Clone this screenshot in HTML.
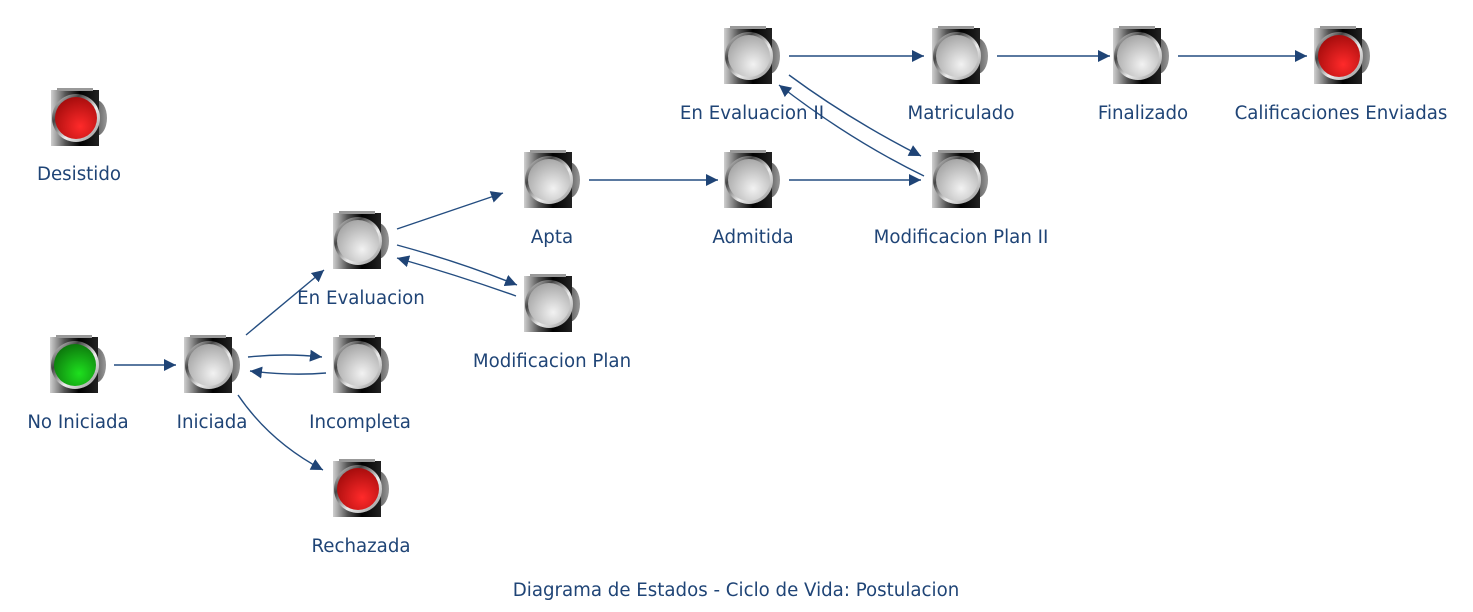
<!DOCTYPE html>
<html><head><meta charset="utf-8"><style>
html,body{margin:0;padding:0;background:#fff;}
svg{display:block;}
text{font-family:"DejaVu Sans","Liberation Sans",sans-serif;font-size:18.2px;fill:#1f4476;text-anchor:middle;}
</style></head><body>
<svg width="1473" height="612" viewBox="0 0 1473 612" xmlns="http://www.w3.org/2000/svg">
<defs>
<linearGradient id="bez" x1="0" y1="0" x2="1" y2="0"><stop offset="0" stop-color="#d0d0d0"/><stop offset="0.3" stop-color="#555"/><stop offset="0.6" stop-color="#000"/><stop offset="1" stop-color="#222"/></linearGradient>
<linearGradient id="ring" x1="0" y1="0" x2="1" y2="1"><stop offset="0" stop-color="#fff"/><stop offset="0.3" stop-color="#444"/><stop offset="0.6" stop-color="#eee"/><stop offset="1" stop-color="#888"/></linearGradient>
<linearGradient id="side" x1="0" y1="0" x2="1" y2="0"><stop offset="0" stop-color="#222"/><stop offset="1" stop-color="#999"/></linearGradient>
<radialGradient id="gG" cx="0.6" cy="0.7" r="0.7"><stop offset="0" stop-color="#f2f2f2"/><stop offset="1" stop-color="#a8a8a8"/></radialGradient>
<radialGradient id="gR" cx="0.6" cy="0.7" r="0.7"><stop offset="0" stop-color="#ff2a2a"/><stop offset="1" stop-color="#a80d0d"/></radialGradient>
<radialGradient id="gV" cx="0.6" cy="0.7" r="0.7"><stop offset="0" stop-color="#1ee01e"/><stop offset="1" stop-color="#0d7a0d"/></radialGradient>
<g id="base">
<ellipse cx="45" cy="28" rx="11" ry="18" fill="url(#side)"/>
<rect x="0" y="0" width="48" height="56" fill="url(#bez)"/>
<rect x="6" y="-2" width="36" height="3" fill="#999"/>
<circle cx="25" cy="28" r="24" fill="url(#ring)"/>
</g>
<marker id="ar" viewBox="0 0 10 10" refX="10" refY="5" markerWidth="12" markerHeight="12" markerUnits="userSpaceOnUse" orient="auto"><path d="M0,0 L10,5 L0,10 Z" fill="#1f4476"/></marker>
</defs>
<g stroke="#244d80" stroke-width="1.4" fill="none" marker-end="url(#ar)">
<path d="M114,365 L176,365"/>
<path d="M246,335 L324,270"/>
<path d="M248,357 Q285,353 322,357"/>
<path d="M326,373 Q290,376 250,371"/>
<path d="M238,395 Q270,442 323,470"/>
<path d="M397,229 L503,193"/>
<path d="M397,245 Q460,262 517,285"/>
<path d="M516,296 Q460,276 397,258"/>
<path d="M589,180 L718,180"/>
<path d="M789,180 L921,180"/>
<path d="M789,75 Q850,120 921,156"/>
<path d="M924,176 Q850,140 779,85"/>
<path d="M789,56 L924,56"/>
<path d="M997,56 L1110,56"/>
<path d="M1178,56 L1307,56"/>
</g>
<g>
<g transform="translate(51,90)"><use href="#base"/><circle cx="25" cy="28" r="21" fill="url(#gR)"/></g>
<g transform="translate(50,337)"><use href="#base"/><circle cx="25" cy="28" r="21" fill="url(#gV)"/></g>
<g transform="translate(184,337)"><use href="#base"/><circle cx="25" cy="28" r="21" fill="url(#gG)"/></g>
<g transform="translate(333,213)"><use href="#base"/><circle cx="25" cy="28" r="21" fill="url(#gG)"/></g>
<g transform="translate(333,337)"><use href="#base"/><circle cx="25" cy="28" r="21" fill="url(#gG)"/></g>
<g transform="translate(333,461)"><use href="#base"/><circle cx="25" cy="28" r="21" fill="url(#gR)"/></g>
<g transform="translate(524,152)"><use href="#base"/><circle cx="25" cy="28" r="21" fill="url(#gG)"/></g>
<g transform="translate(524,276)"><use href="#base"/><circle cx="25" cy="28" r="21" fill="url(#gG)"/></g>
<g transform="translate(724,152)"><use href="#base"/><circle cx="25" cy="28" r="21" fill="url(#gG)"/></g>
<g transform="translate(724,28)"><use href="#base"/><circle cx="25" cy="28" r="21" fill="url(#gG)"/></g>
<g transform="translate(932,152)"><use href="#base"/><circle cx="25" cy="28" r="21" fill="url(#gG)"/></g>
<g transform="translate(932,28)"><use href="#base"/><circle cx="25" cy="28" r="21" fill="url(#gG)"/></g>
<g transform="translate(1113,28)"><use href="#base"/><circle cx="25" cy="28" r="21" fill="url(#gG)"/></g>
<g transform="translate(1314,28)"><use href="#base"/><circle cx="25" cy="28" r="21" fill="url(#gR)"/></g>
</g>
<text x="79" y="180">Desistido</text>
<text x="78" y="428">No Iniciada</text>
<text x="212" y="428">Iniciada</text>
<text x="361" y="304">En Evaluacion</text>
<text x="360" y="428">Incompleta</text>
<text x="361" y="552">Rechazada</text>
<text x="552" y="367">Modificacion Plan</text>
<text x="552" y="243">Apta</text>
<text x="753" y="243">Admitida</text>
<text x="752" y="119">En Evaluacion II</text>
<text x="961" y="243">Modificacion Plan II</text>
<text x="961" y="119">Matriculado</text>
<text x="1143" y="119">Finalizado</text>
<text x="1341" y="119">Calificaciones Enviadas</text>
<text x="736" y="596">Diagrama de Estados - Ciclo de Vida: Postulacion</text>
</svg>
</body></html>
